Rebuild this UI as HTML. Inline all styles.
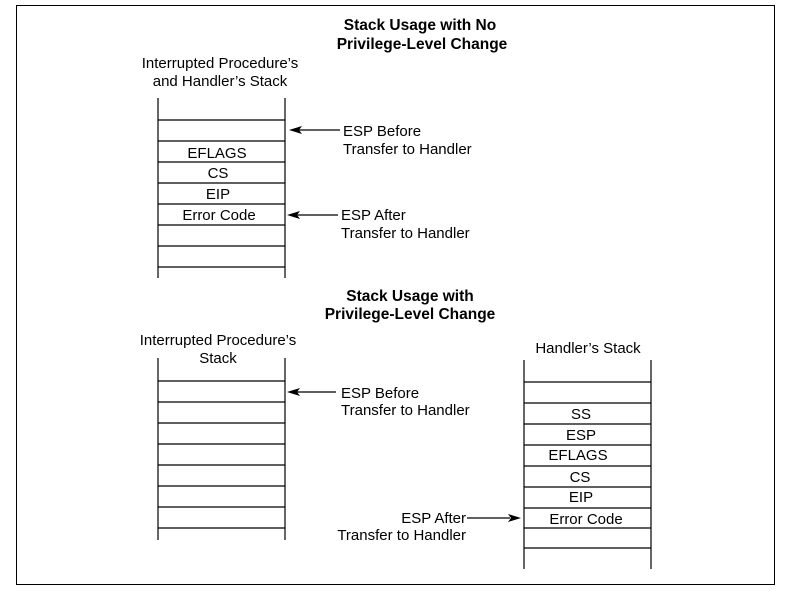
<!DOCTYPE html>
<html><head><style>body{margin:0;background:#fff}</style></head><body>
<svg width="791" height="600" xmlns="http://www.w3.org/2000/svg" font-family="Liberation Sans, sans-serif" font-size="15" fill="#000">
<rect x="0" y="0" width="791" height="600" fill="#fff"/>
<rect x="16.5" y="5.5" width="758" height="579" fill="none" stroke="#000" stroke-width="1"/>
<g stroke="#000" stroke-width="1.2" fill="none">
<line x1="158" y1="98" x2="158" y2="278"/><line x1="285" y1="98" x2="285" y2="278"/>
<line x1="158" y1="120" x2="285" y2="120"/><line x1="158" y1="141" x2="285" y2="141"/>
<line x1="158" y1="162" x2="285" y2="162"/><line x1="158" y1="183" x2="285" y2="183"/>
<line x1="158" y1="204" x2="285" y2="204"/><line x1="158" y1="225" x2="285" y2="225"/>
<line x1="158" y1="246" x2="285" y2="246"/><line x1="158" y1="267" x2="285" y2="267"/>
<line x1="158" y1="358" x2="158" y2="540"/><line x1="285" y1="358" x2="285" y2="540"/>
<line x1="158" y1="381" x2="285" y2="381"/><line x1="158" y1="402" x2="285" y2="402"/>
<line x1="158" y1="423" x2="285" y2="423"/><line x1="158" y1="444" x2="285" y2="444"/>
<line x1="158" y1="465" x2="285" y2="465"/><line x1="158" y1="486" x2="285" y2="486"/>
<line x1="158" y1="507" x2="285" y2="507"/><line x1="158" y1="528" x2="285" y2="528"/>
<line x1="524" y1="360" x2="524" y2="569"/><line x1="651" y1="360" x2="651" y2="569"/>
<line x1="524" y1="382" x2="651" y2="382"/><line x1="524" y1="403" x2="651" y2="403"/>
<line x1="524" y1="424" x2="651" y2="424"/><line x1="524" y1="445" x2="651" y2="445"/>
<line x1="524" y1="466" x2="651" y2="466"/><line x1="524" y1="487" x2="651" y2="487"/>
<line x1="524" y1="508" x2="651" y2="508"/><line x1="524" y1="528" x2="651" y2="528"/>
<line x1="524" y1="548" x2="651" y2="548"/>
<line x1="298" y1="130" x2="340" y2="130"/>
<line x1="296" y1="215" x2="338" y2="215"/>
<line x1="296" y1="392" x2="336" y2="392"/>
<line x1="467" y1="518" x2="510" y2="518"/>
</g>
<g fill="#000">
<polygon points="289,130 302,126 299,130 302,134"/>
<polygon points="287,215 300,211 297,215 300,219"/>
<polygon points="287,392 300,388 297,392 300,396"/>
<polygon points="521,518 508,514 511,518 508,522"/>
</g>
<g font-weight="bold" text-anchor="middle" font-size="15.5">
<text x="420" y="30">Stack Usage with No</text>
<text x="422" y="49">Privilege-Level Change</text>
<text x="410" y="301">Stack Usage with</text>
<text x="410" y="319">Privilege-Level Change</text>
</g>
<g text-anchor="middle">
<text x="220" y="68">Interrupted Procedure’s</text>
<text x="220" y="86">and Handler’s Stack</text>
<text x="217" y="158">EFLAGS</text>
<text x="218" y="178">CS</text>
<text x="218" y="199">EIP</text>
<text x="219" y="220">Error Code</text>
<text x="218" y="345">Interrupted Procedure’s</text>
<text x="218" y="363">Stack</text>
<text x="588" y="353">Handler’s Stack</text>
<text x="581" y="419">SS</text>
<text x="581" y="440">ESP</text>
<text x="578" y="460">EFLAGS</text>
<text x="580" y="482">CS</text>
<text x="581" y="502">EIP</text>
<text x="586" y="524">Error Code</text>
</g>
<text x="343" y="136">ESP Before</text>
<text x="343" y="154">Transfer to Handler</text>
<text x="341" y="220">ESP After</text>
<text x="341" y="238">Transfer to Handler</text>
<text x="341" y="398">ESP Before</text>
<text x="341" y="415">Transfer to Handler</text>
<text x="466" y="523" text-anchor="end">ESP After</text>
<text x="466" y="540" text-anchor="end">Transfer to Handler</text>
</svg>
</body></html>
